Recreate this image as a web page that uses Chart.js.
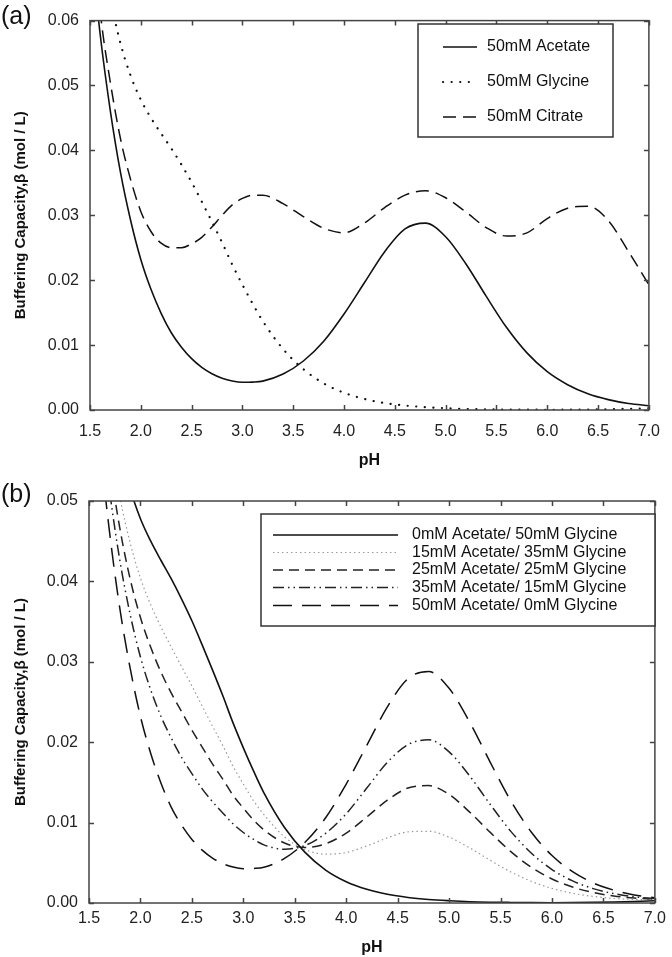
<!DOCTYPE html>
<html>
<head>
<meta charset="utf-8">
<script src="https://cdn.jsdelivr.net/npm/chart.js@4.4.1/dist/chart.umd.min.js"></script>
<style>
    body { margin: 0; background: #fff; width: 672px; height: 957px; position: relative; overflow: hidden; font-family: "Liberation Sans", Arial, sans-serif; }
    canvas { position: absolute; left: 0; }
    #chartA { top: 0; }
    #chartB { top: 478px; }
    .tag { position: absolute; left: 1px; font-size: 25px; color: #111; line-height: 1; }
</style>
</head>
<body>
<canvas id="chartA" width="672" height="478"></canvas>
<canvas id="chartB" width="672" height="479"></canvas>
<div class="tag" style="top:3px">(a)</div>
<div class="tag" style="top:481px">(b)</div>
<script>
// pH grid shared by both panels
const ph = [1.5, 1.6, 1.7, 1.8, 1.9, 2.0, 2.1, 2.2, 2.3, 2.4, 2.5, 2.6, 2.7, 2.8, 2.9, 3.0, 3.1, 3.2,
            3.4, 3.6, 3.8, 4.0, 4.2, 4.4, 4.6, 4.8, 5.0, 5.2, 5.4, 5.6, 5.8, 6.0, 6.2, 6.4, 6.6, 6.8, 7.0];

// Panel (a) - single buffers, 50 mM
const acetate50 = [0.0729, 0.0579, 0.0461, 0.0366, 0.0292, 0.0232, 0.0186, 0.0149, 0.0119, 0.00967, 0.00791, 0.00657, 0.00559, 0.0049, 0.00447, 0.00427, 0.0043, 0.00445,
                   0.00554, 0.00755, 0.0106, 0.0148, 0.0196, 0.0244, 0.0279, 0.0288, 0.0267, 0.0225, 0.0175, 0.0127, 0.0088, 0.0059, 0.0039, 0.0025, 0.0016, 0.001, 0.00066];
const glycine50 = [0.0855, 0.0729, 0.0635, 0.0565, 0.0515, 0.0478, 0.045, 0.0426, 0.0403, 0.0378, 0.0351, 0.0321, 0.029, 0.0258, 0.0224, 0.0193, 0.0164, 0.0137,
                   0.0094, 0.0063, 0.0041, 0.00265, 0.0017, 0.00108, 0.00069, 0.00044, 0.00028, 0.00016, 0.0001, 0.00007, 0.00005, 0.00004, 0.00005, 0.00008, 0.00012, 0.00018, 0.00028];
const citrate50 = [0.080, 0.0615, 0.0505, 0.0418, 0.0355, 0.0306, 0.0275, 0.0257, 0.025, 0.025, 0.0256, 0.0266, 0.0282, 0.03, 0.0316, 0.0326, 0.0331, 0.0331,
                   0.0318, 0.0298, 0.028, 0.0273, 0.0288, 0.0312, 0.0331, 0.0338, 0.0327, 0.0305, 0.0281, 0.0268, 0.0273, 0.0295, 0.0311, 0.0314, 0.0292, 0.0244, 0.0193];

// Panel (b) - acetate / glycine mixtures
const mix0_50 = glycine50;
const mix15_35 = [0.0817, 0.0684, 0.0582, 0.0505, 0.0448, 0.0404, 0.0371, 0.0343, 0.0318, 0.0294, 0.027, 0.0245, 0.022, 0.0196, 0.017, 0.0148, 0.0127, 0.011,
                  0.00823, 0.00665, 0.00607, 0.00628, 0.00709, 0.0081, 0.00885, 0.00892, 0.00819, 0.00686, 0.00531, 0.00386, 0.00269, 0.00181, 0.00121, 0.00082, 0.00057, 0.00044, 0.0004];
const mix25_25 = [0.0792, 0.0654, 0.0548, 0.0466, 0.0403, 0.0355, 0.0318, 0.0287, 0.0261, 0.0238, 0.0215, 0.0194, 0.0173, 0.0154, 0.0134, 0.0118, 0.0103, 0.0091,
                  0.00746, 0.00691, 0.00737, 0.0087, 0.0107, 0.0128, 0.0143, 0.0146, 0.0135, 0.0113, 0.00878, 0.00639, 0.00444, 0.00299, 0.00198, 0.00131, 0.00087, 0.00061, 0.00047];
const mix35_15 = [0.0767, 0.0625, 0.0513, 0.0426, 0.0359, 0.0306, 0.0265, 0.0232, 0.0205, 0.0181, 0.0161, 0.0142, 0.0126, 0.0112, 0.00985, 0.00877, 0.0079, 0.00723,
                  0.00669, 0.00716, 0.00867, 0.0111, 0.0143, 0.0175, 0.0197, 0.0203, 0.0188, 0.0158, 0.01225, 0.00891, 0.00619, 0.00416, 0.00275, 0.00179, 0.00117, 0.00077, 0.00054];
const mix50_0 = acetate50;

const labelsA = ['50mM Acetate', '50mM Glycine', '50mM Citrate'];
const labelsB = ['0mM Acetate/ 50mM Glycine', '15mM Acetate/ 35mM Glycine', '25mM Acetate/ 25mM Glycine',
                 '35mM Acetate/ 15mM Glycine', '50mM Acetate/ 0mM Glycine'];

const FONT = '"Liberation Sans", Arial, Helvetica, sans-serif';
const yTitle = 'Buffering Capacity,\u03B2 (mol / L)';

const toXY = (xs, ys) => xs.map((x, i) => ({ x: x, y: ys[i] }));

// frame round the plot with inward ticks on every side
const frameTicks = {
    id: 'frameTicks',
    afterDatasetsDraw(chart) {
        const { ctx, chartArea: a, scales: { x, y } } = chart;
        ctx.save();
        ctx.strokeStyle = '#444';
        ctx.lineWidth = 1.5;
        ctx.strokeRect(a.left, a.top, a.right - a.left, a.bottom - a.top);
        ctx.beginPath();
        x.ticks.forEach(t => {
            const px = Math.round(x.getPixelForValue(t.value)) + 0.5;
            ctx.moveTo(px, a.bottom); ctx.lineTo(px, a.bottom - 5);
            ctx.moveTo(px, a.top); ctx.lineTo(px, a.top + 5);
        });
        y.ticks.forEach(t => {
            const py = Math.round(y.getPixelForValue(t.value)) + 0.5;
            ctx.moveTo(a.left, py); ctx.lineTo(a.left + 5, py);
            ctx.moveTo(a.right, py); ctx.lineTo(a.right - 5, py);
        });
        ctx.stroke();
        ctx.restore();
    }
};

// legend inside a plain box
const boxLegend = {
    id: 'boxLegend',
    afterDraw(chart, args, o) {
        const ctx = chart.ctx;
        ctx.save();
        ctx.fillStyle = '#fff';
        ctx.fillRect(o.box[0], o.box[1], o.box[2], o.box[3]);
        ctx.strokeStyle = '#333';
        ctx.lineWidth = 1.5;
        ctx.strokeRect(o.box[0], o.box[1], o.box[2], o.box[3]);
        ctx.font = '16px ' + FONT;
        ctx.textBaseline = 'middle';
        chart.data.datasets.forEach((ds, i) => {
            const yy = o.rows[i];
            ctx.strokeStyle = ds.borderColor;
            ctx.lineWidth = ds.borderWidth;
            ctx.lineCap = ds.borderCapStyle || 'butt';
            ctx.setLineDash(ds.borderDash || []);
            ctx.beginPath();
            ctx.moveTo(o.lineX[0], yy);
            ctx.lineTo(o.lineX[1], yy);
            ctx.stroke();
            ctx.setLineDash([]);
            ctx.fillStyle = '#111';
            ctx.fillText(ds.label, o.textX, yy);
        });
        ctx.restore();
    }
};

function line(label, ys, color, width, dash, cap) {
    return {
        label: label,
        data: toXY(ph, ys),
        borderColor: color,
        borderWidth: width,
        borderDash: dash,
        borderCapStyle: cap || 'butt',
        pointRadius: 0,
        fill: false,
        cubicInterpolationMode: 'monotone'
    };
}

function scales(ymax, yWidth, xHeight, xPad, pHPad) {
    return {
        x: {
            type: 'linear', min: 1.5, max: 7.0,
            afterFit: s => { s.height = xHeight; },
            grid: { display: false, drawTicks: false },
            border: { display: false },
            ticks: { stepSize: 0.5, padding: xPad, color: '#222', autoSkip: false, maxRotation: 0,
                     font: { size: 16, family: FONT }, callback: v => v.toFixed(1) },
            title: { display: true, text: 'pH', color: '#111', font: { size: 16, weight: 'bold', family: FONT },
                     padding: { top: 0, bottom: pHPad } }
        },
        y: {
            min: 0, max: ymax,
            afterFit: s => { s.width = yWidth; },
            grid: { display: false, drawTicks: false },
            border: { display: false },
            ticks: { stepSize: 0.01, padding: 11, color: '#222',
                     font: { size: 16, family: FONT }, callback: v => v.toFixed(2) },
            title: { display: true, text: yTitle, color: '#111', font: { size: 15, weight: 'bold', family: FONT },
                     padding: { top: 12, bottom: 0 } }
        }
    };
}

new Chart(document.getElementById('chartA'), {
    type: 'line',
    data: {
        datasets: [
            line(labelsA[0], acetate50, '#111', 1.6, []),
            line(labelsA[1], glycine50, '#111', 2.2, [0.1, 8.5], 'round'),
            line(labelsA[2], citrate50, '#111', 1.5, [13, 7])
        ]
    },
    options: {
        responsive: false, animation: false, devicePixelRatio: 1,
        layout: { padding: { top: 14, right: 8, left: 0, bottom: 0 } },
        plugins: {
            legend: { display: false }, tooltip: { enabled: false },
            boxLegend: { box: [418, 24, 195, 113], rows: [47, 82, 117], lineX: [443, 477], textX: 487 }
        },
        scales: scales(0.06, 90, 68, 12, 8)
    },
    plugins: [frameTicks, boxLegend]
});

new Chart(document.getElementById('chartB'), {
    type: 'line',
    data: {
        datasets: [
            line(labelsB[0], mix0_50, '#111', 1.6, []),
            line(labelsB[1], mix15_35, '#9a9a9a', 1.2, [1.5, 3]),
            line(labelsB[2], mix25_25, '#222', 1.5, [10, 6]),
            line(labelsB[3], mix35_15, '#222', 1.5, [11, 4, 1.5, 4, 1.5, 4]),
            line(labelsB[4], mix50_0, '#111', 1.5, [19, 10])
        ]
    },
    options: {
        responsive: false, animation: false, devicePixelRatio: 1,
        layout: { padding: { top: 23, right: 7, left: 0, bottom: 0 } },
        plugins: {
            legend: { display: false }, tooltip: { enabled: false },
            boxLegend: { box: [261, 36, 394, 112], rows: [57, 74.5, 92, 109.5, 127.5], lineX: [273, 398], textX: 412 }
        },
        scales: scales(0.05, 89, 54, 6, 0)
    },
    plugins: [frameTicks, boxLegend]
});
</script>
</body>
</html>
